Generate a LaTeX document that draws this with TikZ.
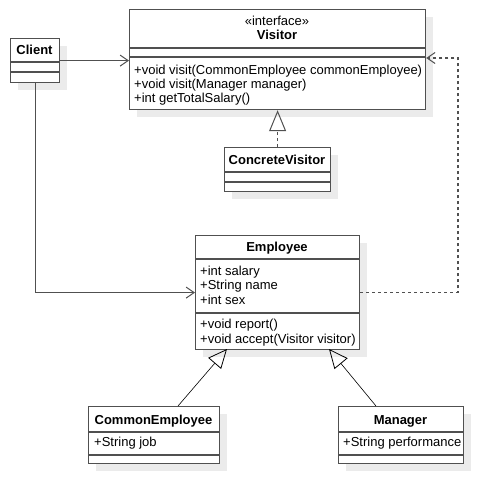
\documentclass[tikz,border=0pt]{standalone}
\usepackage{fontspec}
\setmainfont{Liberation Sans}
\usetikzlibrary{arrows.meta,shadows,calc}
\definecolor{linec}{HTML}{505050}
\definecolor{shadowc}{HTML}{EBEBEB}
\begin{document}
\begin{tikzpicture}[x=1pt,y=-1pt,
  font=\fontsize{13}{14}\selectfont,
  cls/.style={draw=linec, line width=1.2pt, fill=white, inner sep=0pt, anchor=north west,
    drop shadow={shadow xshift=7pt,shadow yshift=-7pt,fill=shadowc,opacity=1}},
  divl/.style={draw=linec, line width=1.2pt},
  txt/.style={anchor=base west, inner sep=0pt},
  ttl/.style={anchor=base, inner sep=0pt, font=\fontsize{13}{14}\selectfont\bfseries},
  stereo/.style={anchor=base, inner sep=0pt},
  assoc/.style={draw=linec, line width=1.1pt, -{Straight Barb[length=8pt,width=11pt,line width=1pt]}},
  depend/.style={draw=linec, line width=1.1pt, dash pattern=on 3pt off 3pt, -{Straight Barb[length=8pt,width=11pt,line width=1pt]}},
  realize/.style={draw=linec, line width=1.1pt, dash pattern=on 3pt off 3pt, -{Triangle[open,length=21pt,width=17pt,line width=1pt]}},
  general/.style={draw=black, line width=0.6pt, -{Triangle[open,length=19pt,width=17pt,line width=0.8pt]}}
]
\useasboundingbox (0,0) rectangle (504,504);

% Client
\node[cls, minimum width=49pt, minimum height=44pt] (client) at (10,38) {};
\draw[divl] (client.west |- 0,62) -- (client.east |- 0,62);
\draw[divl] (client.west |- 0,72) -- (client.east |- 0,72);
\node[ttl] (clientT) at (34.5,54.5) {Client};

% Visitor
\node[cls, minimum width=296pt, minimum height=100pt] (visitor) at (129,9) {};
\draw[divl] (visitor.west |- 0,48) -- (visitor.east |- 0,48);
\draw[divl] (visitor.west |- 0,57) -- (visitor.east |- 0,57);
\node[stereo] (visS) at (277,25) {«interface»};
\node[ttl] (visT) at (277,39.5) {Visitor};
\node[txt] (vm1) at (134,74) {+void visit(CommonEmployee commonEmployee)};
\node[txt] (vm2) at (134,88.5) {+void visit(Manager manager)};
\node[txt] (vm3) at (134,102.5) {+int getTotalSalary()};

% ConcreteVisitor
\node[cls, minimum width=106pt, minimum height=44pt] (cv) at (224,147) {};
\draw[divl] (cv.west |- 0,172) -- (cv.east |- 0,172);
\draw[divl] (cv.west |- 0,182) -- (cv.east |- 0,182);
\node[ttl] (cvT) at (277,164.5) {ConcreteVisitor};

% Employee
\node[cls, minimum width=164pt, minimum height=114pt] (emp) at (195,235) {};
\draw[divl] (emp.west |- 0,259) -- (emp.east |- 0,259);
\draw[divl] (emp.west |- 0,313) -- (emp.east |- 0,313);
\node[ttl] (empT) at (277,251) {Employee};
\node[txt] (ea1) at (200,275) {+int salary};
\node[txt] (ea2) at (200,289.5) {+String name};
\node[txt] (ea3) at (200,304) {+int sex};
\node[txt] (em1) at (200,328) {+void report()};
\node[txt] (em2) at (200,343) {+void accept(Visitor visitor)};

% CommonEmployee
\node[cls, minimum width=131pt, minimum height=57pt] (ce) at (88,406) {};
\draw[divl] (ce.west |- 0,432) -- (ce.east |- 0,432);
\draw[divl] (ce.west |- 0,455) -- (ce.east |- 0,455);
\node[ttl] (ceT) at (153.5,424.5) {CommonEmployee};
\node[txt] (cea) at (94,446.5) {+String job};

% Manager
\node[cls, minimum width=125pt, minimum height=57pt] (mgr) at (338,406) {};
\draw[divl] (mgr.west |- 0,432) -- (mgr.east |- 0,432);
\draw[divl] (mgr.west |- 0,455) -- (mgr.east |- 0,455);
\node[ttl] (mgrT) at (400.5,424.5) {Manager};
\node[txt] (mga) at (343,446.5) {+String performance};

% connectors
\draw[assoc] (client.east) -- (client.east -| visitor.west);
\draw[assoc] (client.south) |- (emp.west);
\coordinate (dcorner) at (458,58);
\draw[depend] (emp.east) -| (dcorner) -- (dcorner -| visitor.east);
\draw[realize] (cv.north) -- (visitor.south);
\coordinate (ceTop) at (178,406);
\coordinate (empL) at (227,349);
\coordinate (mgrTop) at (376,406);
\coordinate (empR) at (329,349);
\draw[general] (ceTop) -- (empL);
\draw[general] (mgrTop) -- (empR);
\end{tikzpicture}
\end{document}
